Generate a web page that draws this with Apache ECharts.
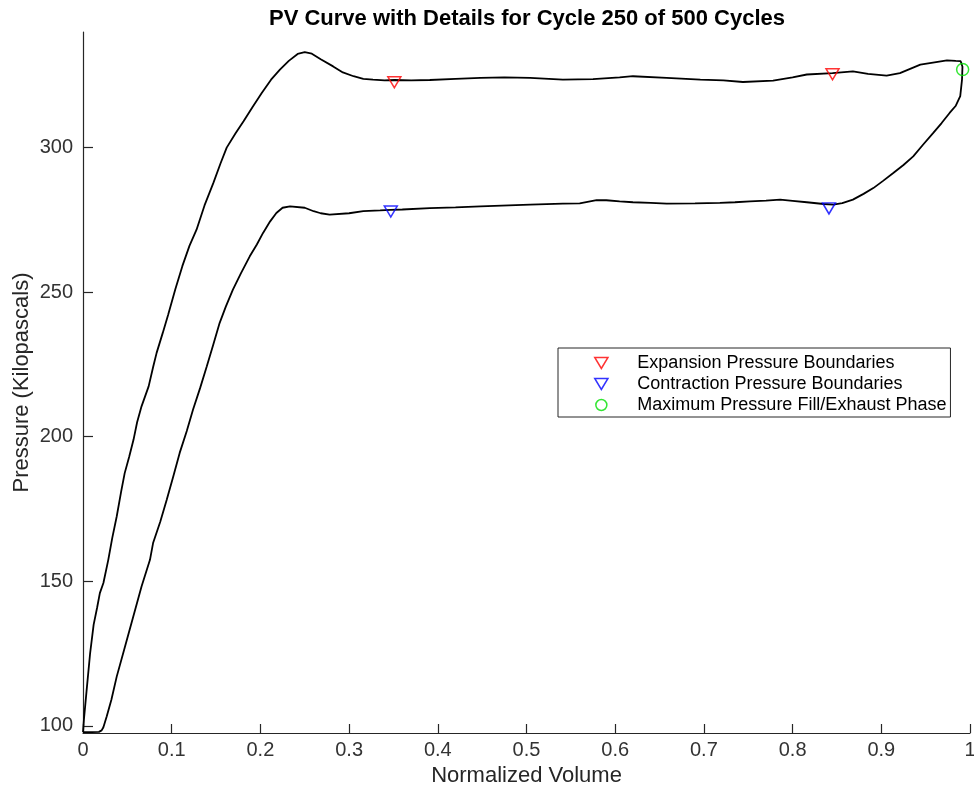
<!DOCTYPE html>
<html>
<head>
<meta charset="utf-8">
<title>PV Curve</title>
<script src="https://cdn.jsdelivr.net/npm/echarts@6/dist/echarts.min.js"></script>
<style>
	html, body {margin: 0; padding: 0; background: #fff;}
	#main {width: 974px; height: 788px;}
</style>
</head>
<body>
<div id="main"></div>
<script>
// one cycle, traced in order: fill branch up, top plateau, right turn, bottom plateau back, down to start
var volume = [
	0.000, 0.001, 0.004, 0.008, 0.012, 0.016, 0.019, 0.023, 0.0285, 0.033,
	0.038, 0.043, 0.047, 0.052, 0.057, 0.061, 0.066, 0.074, 0.079, 0.083,
	0.090, 0.096, 0.104, 0.112, 0.120, 0.128, 0.137, 0.147, 0.155, 0.162,
	0.172, 0.181, 0.191, 0.2015, 0.212, 0.222, 0.232, 0.242, 0.250, 0.258,
	0.268, 0.282, 0.293, 0.305, 0.316, 0.327, 0.340, 0.351, 0.370, 0.391,
	0.420, 0.448, 0.475, 0.504, 0.541, 0.575, 0.605, 0.620, 0.658, 0.696,
	0.722, 0.744, 0.778, 0.800, 0.816, 0.845, 0.868, 0.885, 0.906, 0.921,
	0.944, 0.960, 0.974, 0.984, 0.9895, 0.9915, 0.991, 0.989, 0.984, 0.977,
	0.968, 0.9586, 0.947, 0.936, 0.925, 0.9135, 0.902, 0.891, 0.880, 0.868,
	0.856, 0.846, 0.835, 0.816, 0.800, 0.786, 0.770, 0.752, 0.735, 0.718,
	0.690, 0.658, 0.640, 0.620, 0.605, 0.590, 0.579, 0.560, 0.541, 0.504,
	0.448, 0.420, 0.391, 0.360, 0.347, 0.335, 0.316, 0.300, 0.278, 0.268,
	0.260, 0.250, 0.2334, 0.225, 0.218, 0.211, 0.203, 0.196, 0.188, 0.178,
	0.169, 0.161, 0.154, 0.147, 0.1395, 0.132, 0.124, 0.117, 0.109, 0.102,
	0.0944, 0.087, 0.079, 0.0755, 0.066, 0.0567, 0.047, 0.038, 0.032, 0.0267,
	0.023, 0.021, 0.018, 0.010, 0.000
];
var pressure = [
	97.8, 102, 112, 125, 135, 141, 145.9, 149.4, 157.4, 165,
	172.4, 181, 187.4, 193, 199, 205, 210.5, 217.4, 224, 229,
	236, 242.2, 250.9, 259, 266, 271.6, 280, 287.8, 294.5, 300,
	305, 309.1, 314, 318.9, 323.5, 327, 330, 332.4, 333.0, 332.5,
	330.6, 328.1, 326, 324.7, 323.8, 323.5, 323.3, 323.4, 323.3, 323.4,
	323.8, 324.1, 324.3, 324.1, 323.5, 323.7, 324.3, 324.7, 324.1, 323.5,
	323.3, 322.7, 323.2, 324.3, 325.3, 325.8, 326.4, 325.5, 324.9, 325.8,
	328.7, 329.5, 330.2, 330.0, 329.9, 328, 323.5, 317.8, 314.5, 312,
	308.5, 305.1, 301, 297, 294, 291.2, 288.5, 286, 284, 282,
	280.8, 280.3, 280.5, 281.1, 281.6, 282, 281.7, 281.4, 281.1, 280.9,
	280.7, 280.6, 280.9, 281.1, 281.4, 281.8, 281.8, 280.7, 280.6, 280.3,
	279.7, 279.3, 279.1, 278.6, 278.5, 278.3, 278.0, 277.3, 276.8, 277.3,
	278, 279.2, 279.7, 279.2, 277.4, 274.5, 270.5, 266.5, 262.4, 256.5,
	250.9, 245, 239.3, 232, 224.3, 216.8, 209.3, 202, 194.4, 186.5,
	178.2, 170.5, 163.2, 157.4, 148.2, 137.8, 127, 117, 109, 103.2,
	99.5, 98.4, 97.9, 97.8, 97.8
];

var expansionPts = [[0.351, 322.6], [0.845, 325.4]];
var contractionPts = [[0.347, 277.9], [0.841, 279.0]];
var maxPressurePts = [[0.9917, 327.0]];

var yTicks = [100, 150, 200, 250, 300];

var FONT = "'Liberation Sans', Arial, Helvetica, sans-serif";
var AXIS_COLOR = '#262626';
var TRI_DOWN = 'path://M0,0L12,0L6,10Z';

window.onload = function () {
	var curve = [];
	for (var i = 0; i < volume.length; i++) {
		curve.push([volume[i], pressure[i]]);
	}

	function markerSeries(name, data, symbol, size, color) {
		return {
			name: name,
			type: 'scatter',
			data: data,
			symbol: symbol,
			symbolSize: size,
			itemStyle: {
				color: 'rgba(0,0,0,0)',
				borderColor: color,
				borderWidth: 1.5
			},
			z: 5
		}
	}

	var options = {
		animation: false,
		backgroundColor: '#fff',
		title: {
			text: 'PV Curve with Details for Cycle 250 of 500 Cycles',
			left: 522,
			top: 3,
			textAlign: 'center',
			textStyle: {
				fontFamily: FONT,
				fontSize: 22,
				fontWeight: 'bold',
				color: '#000'
			}
		},
		grid: {
			left: 83,
			right: 4,
			top: 32,
			bottom: 55,
			containLabel: false,
			outerBoundsMode: 'none'
		},
		legend: {
			orient: 'vertical',
			left: 558,
			top: 348,
			padding: [6, 4, 3, 36],
			itemWidth: 62,
			itemHeight: 11,
			itemGap: 3,
			borderColor: AXIS_COLOR,
			borderWidth: 1,
			backgroundColor: '#fff',
			itemStyle: {borderWidth: 1.5},
			textStyle: {
				fontFamily: FONT,
				fontSize: 18,
				color: '#000'
			},
			data: ['Expansion Pressure Boundaries', 'Contraction Pressure Boundaries', 'Maximum Pressure Fill/Exhaust Phase']
		},
		xAxis: {
			type: 'value',
			min: 0,
			max: 1,
			interval: 0.1,
			name: 'Normalized Volume',
			nameLocation: 'middle',
			nameGap: 32,
			nameMoveOverlap: false,
			nameTextStyle: {fontFamily: FONT, fontSize: 22, color: AXIS_COLOR},
			axisLine: {onZero: false, lineStyle: {color: AXIS_COLOR, width: 1.2}},
			axisTick: {inside: true, length: 9, lineStyle: {color: AXIS_COLOR, width: 1.2}},
			axisLabel: {fontFamily: FONT, fontSize: 20, color: '#333', margin: 7},
			splitLine: {show: false}
		},
		yAxis: {
			type: 'value',
			min: 97.5,
			max: 340,
			name: 'Pressure (Kilopascals)',
			nameLocation: 'middle',
			nameGap: 50,
			nameMoveOverlap: false,
			nameTextStyle: {fontFamily: FONT, fontSize: 22, color: AXIS_COLOR},
			axisLine: {show: true, onZero: false, lineStyle: {color: AXIS_COLOR, width: 1.2}},
			axisTick: {show: true, inside: true, length: 10, customValues: yTicks, lineStyle: {color: AXIS_COLOR, width: 1.2}},
			axisLabel: {fontFamily: FONT, fontSize: 20, color: '#333', margin: 10, customValues: yTicks},
			splitLine: {show: false}
		},
		series: [
			{
				name: 'PV',
				type: 'line',
				data: curve,
				showSymbol: false,
				symbol: 'none',
				smooth: false,
				lineStyle: {color: '#000', width: 1.8},
				z: 2
			},
			markerSeries('Expansion Pressure Boundaries', expansionPts, TRI_DOWN, [13, 11], '#ff0000'),
			markerSeries('Contraction Pressure Boundaries', contractionPts, TRI_DOWN, [13, 11], '#0000ff'),
			markerSeries('Maximum Pressure Fill/Exhaust Phase', maxPressurePts, 'circle', 12, '#00e000')
		]
	}
	var ele = document.getElementById('main');
	var myChart = echarts.init(ele);
	myChart.setOption(options);
}
</script>
</body>
</html>
